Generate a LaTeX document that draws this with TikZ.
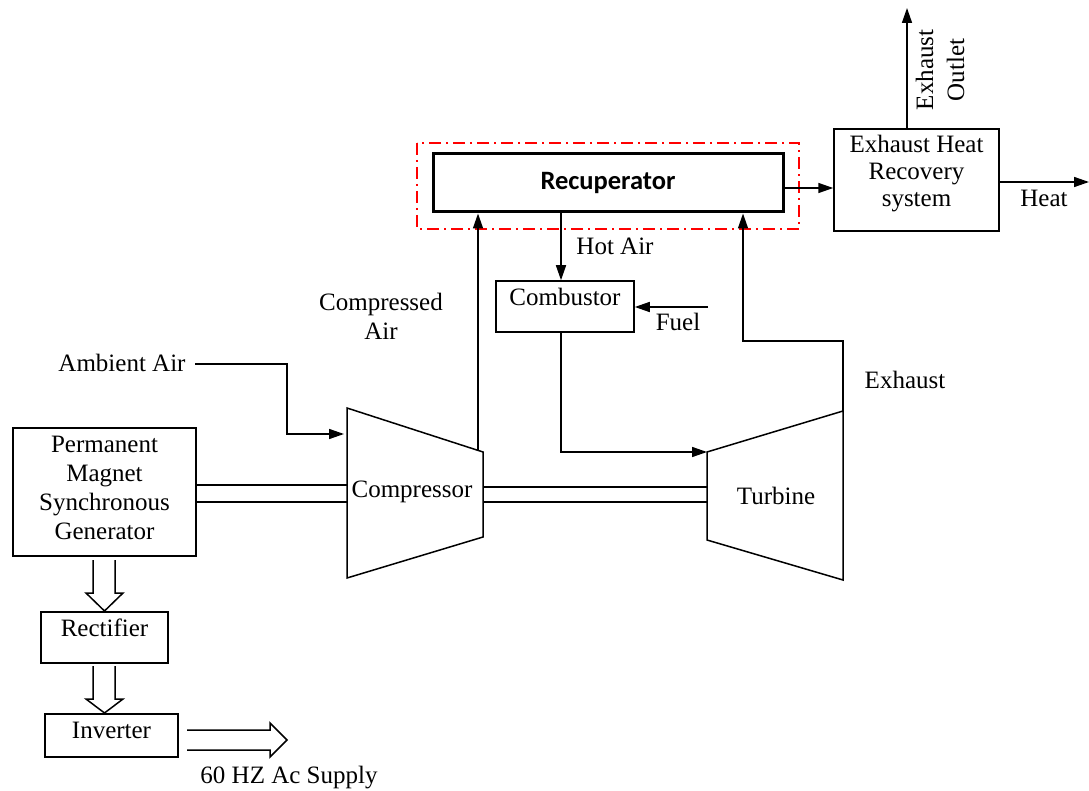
\documentclass[tikz,border=0pt]{standalone}
\usepackage{fontspec}
\setmainfont{Liberation Serif}
\newfontfamily\recfont{Carlito}
\usetikzlibrary{arrows.meta}
\begin{document}
\begin{tikzpicture}[x=1pt,y=-1pt,
  line width=1.5pt,
  every node/.style={font=\fontsize{25}{29}\selectfont, inner sep=0pt},
  box/.style={draw, line width=1.5pt, minimum width=#1},
  arr/.style={-{Triangle[length=15pt,width=10pt]}},
  fat/.style={draw, line width=1.5pt, fill=white, line join=miter}]
\useasboundingbox (0,0) rectangle (1089,791);

% Recuperator
\node[box=350pt, minimum height=58pt, line width=3pt, font=\recfont\bfseries\fontsize{26.5}{30}\selectfont] (recup) at (608,183) {Recuperator};
\draw[red, line width=1.5pt, dash pattern=on 12pt off 5pt on 2pt off 5pt] (417,143) rectangle (799,229);

% Exhaust heat recovery
\node[box=165pt, minimum height=102pt] (ehrs) at (916.5,180) {};
\node[align=center, font=\fontsize{25}{27}\selectfont] (ehrst) at (916.5,174) {Exhaust Heat\\Recovery\\system};
\coordinate (outtop) at (907,8);
\coordinate (outbot) at (907,129);
\draw[arr] (outbot) -- (outtop);
\node[rotate=90, align=center, font=\fontsize{25}{31}\selectfont] (outlbl) at (940,70) {Exhaust\\Outlet};
\coordinate (heatend) at (1089,182);
\draw[arr] (ehrs.east |- heatend) -- (heatend);
\node (heatlbl) at (1044,198) {Heat};
\coordinate (recr) at (783,188);
\draw[arr] (recr) -- (ehrs.west |- recr);

% PMSG
\node[box=183pt, minimum height=128pt] (pmsg) at (104.5,492) {};
\node[align=center] (pmsgt) at (104.5,488) {Permanent\\Magnet\\Synchronous\\Generator};

% Rectifier, Inverter
\node[box=127pt, minimum height=51pt] (rect) at (104.5,637.5) {};
\node (rectt) at (104.5,628) {Rectifier};
\node[box=133pt, minimum height=43pt] (inv) at (111.5,735.5) {};
\node (invt) at (111.5,730) {Inverter};

% fat arrows
\draw[fat] (93,560) -- (93,593) -- (86,593) -- (104.5,611) -- (123,593) -- (115,593) -- (115,560);
\draw[fat] (93,666) -- (93,699) -- (86,699) -- (104.5,713) -- (123,699) -- (115,699) -- (115,666);
\draw[fat] (187,730) -- (270,730) -- (270,723) -- (287,740) -- (270,757) -- (270,750) -- (187,750);
\node (supply) at (289,778) {60 HZ Ac Supply};

% Compressor
\coordinate (c1) at (347,408);
\coordinate (c2) at (483,452);
\coordinate (c3) at (483,537);
\coordinate (c4) at (347,578);
\draw[line join=miter] (c1) -- (c2) -- (c3) -- (c4) -- cycle;
\node (comp) at (412,492) {Compressor};

% Turbine
\coordinate (t1) at (707,452);
\coordinate (t2) at (843,411);
\coordinate (t3) at (843,580);
\coordinate (t4) at (707,540);
\draw[line join=miter] (t1) -- (t2) -- (t3) -- (t4) -- cycle;
\node (turb) at (776,496) {Turbine};

% shafts
\draw (pmsg.east |- 0,485) -- (c1 |- 0,485);
\draw (pmsg.east |- 0,502) -- (c1 |- 0,502);
\draw (c2 |- 0,487) -- (t1 |- 0,487);
\draw (c2 |- 0,502) -- (t1 |- 0,502);

% Ambient air
\node (amb) at (122,363) {Ambient Air};
\coordinate (amb0) at (195,364);
\coordinate (amb1) at (287,364);
\coordinate (amb2) at (287,434);
\coordinate (amb3) at (344,434);
\draw[arr] (amb0) -- (amb1) -- (amb2) -- (amb3);

% Compressed air
\coordinate (cab) at (478,450);
\draw[arr] (cab) -- (cab |- recup.south);
\node[align=center] (calbl) at (381,316) {Compressed\\Air};

% Combustor
\node[box=138pt, minimum height=51pt] (comb) at (565,306.5) {};
\node (combt) at (565,297) {Combustor};
\coordinate (hot) at (561,212);
\draw[arr] (hot) -- (hot |- comb.north);
\node (hotlbl) at (615,246) {Hot Air};
\coordinate (fuel) at (708,307);
\draw[arr] (fuel) -- (comb.east |- fuel);
\node (fuellbl) at (678,322) {Fuel};
\coordinate (cb1) at (561,332);
\coordinate (cb2) at (561,452);
\draw[arr] (cb1) -- (cb2) -- (t1);

% Exhaust
\coordinate (ex1) at (843,341);
\coordinate (ex2) at (743,341);
\draw[arr] (t2) -- (ex1) -- (ex2) -- (ex2 |- recup.south);
\node (exlbl) at (905,380) {Exhaust};
\end{tikzpicture}
\end{document}
